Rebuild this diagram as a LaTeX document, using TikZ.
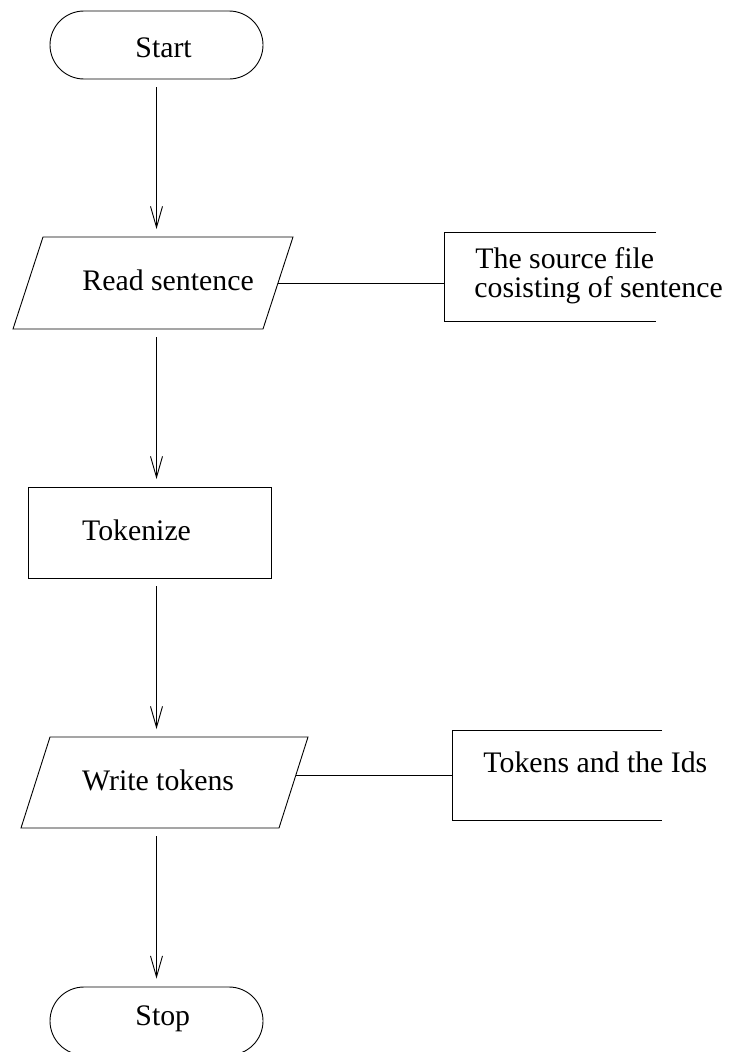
\documentclass[tikz,border=0pt]{standalone}
\usepackage{fontspec}
\setmainfont{Liberation Serif}
\usetikzlibrary{arrows.meta}
\begin{document}
\begin{tikzpicture}[x=1pt,y=-1pt, line width=0.9pt,
  terminal/.style={draw, rectangle, rounded corners=34pt, minimum width=213pt,
    minimum height=68pt, inner sep=0pt},
  procbox/.style={draw, rectangle, minimum width=243pt, minimum height=91pt, inner sep=0pt},
  txt/.style={inner sep=0pt, anchor=base west, font=\fontsize{29.8}{29.5}\selectfont},
  flow/.style={-{Straight Barb[length=21pt,width=12pt]}, shorten <=8pt, shorten >=8pt},
  link/.style={}]
\clip (0,0) rectangle (731,1052);

% terminals
\node[terminal] (start) at (156.5,45) {};
\node[txt] (startlabel) at (135,57) {Start};
\node[terminal] (stop) at (156.5,1021) {};
\node[txt] (stoplabel) at (135,1025) {Stop};

% input: read sentence
\draw (43,237) coordinate (readtl) -- (293,237) coordinate (readtr)
  -- (263,329) coordinate (readbr) -- (13,329) coordinate (readbl) -- cycle;
\coordinate (readn) at (156.5,237);
\coordinate (reads) at (156.5,329);
\coordinate (reade) at (278,283);
\node[txt] (readlabel) at (82,290) {Read sentence};

% process: tokenize
\node[procbox] (tok) at (149.5,532.5) {};
\node[txt] (toklabel) at (81.7,540.7) {Tokenize};
\coordinate (tokn) at (156.5,487);
\coordinate (toks) at (156.5,578);

% output: write tokens
\draw (50,737) coordinate (writetl) -- (308,737) coordinate (writetr)
  -- (279,828) coordinate (writebr) -- (21,828) coordinate (writebl) -- cycle;
\coordinate (writen) at (156.5,737);
\coordinate (writes) at (156.5,828);
\coordinate (writee) at (296,775);
\node[txt] (writelabel) at (81.7,790.7) {Write tokens};

% data stores (open on the right)
\draw (656,232) -- (444,232) coordinate (srcnw) -- (444,321) -- (656,321);
\coordinate (srcw) at (444,283);
\node[txt] (src1) at (475,268) {The source file};
\node[txt] (src2) at (474,297) {cosisting of sentence};

\draw (662,730) -- (452,730) -- (452,820) -- (662,820);
\coordinate (tokdw) at (452,775);
\node[txt] (tokd) at (483,772) {Tokens and the Ids};

% connectors
\draw[flow] (start.south) -- (readn);
\draw[flow] (reads) -- (tokn);
\draw[flow] (toks) -- (writen);
\draw[flow] (writes) -- (stop.north);
\draw[link] (reade) -- (srcw);
\draw[link] (writee) -- (tokdw);
\end{tikzpicture}
\end{document}
